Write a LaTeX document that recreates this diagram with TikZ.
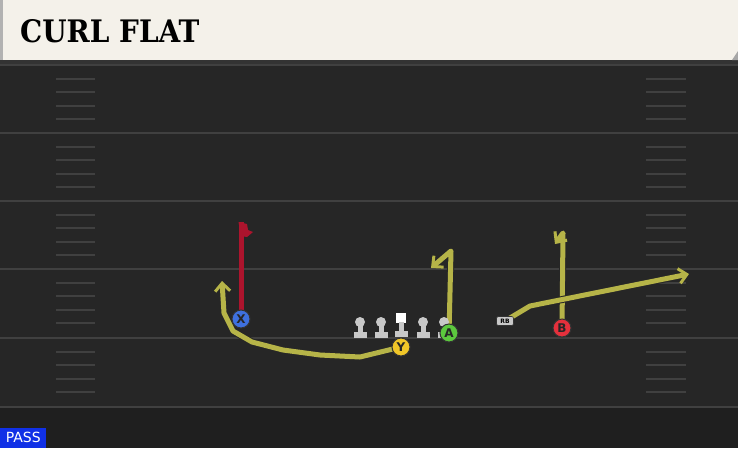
\documentclass[tikz,border=0pt]{standalone}
\usepackage{fontspec}
\setsansfont{DejaVu Sans}
\newfontfamily\titlefont{DejaVu Serif Condensed}
\usetikzlibrary{arrows.meta}
\definecolor{field}{RGB}{38,38,38}
\definecolor{fielddark}{RGB}{31,31,31}
\definecolor{yardline}{RGB}{64,64,64}
\definecolor{header}{RGB}{244,241,234}
\definecolor{routeyellow}{RGB}{182,180,72}
\definecolor{routered}{RGB}{172,20,45}
\definecolor{xblue}{RGB}{62,112,222}
\definecolor{yyellow}{RGB}{240,198,40}
\definecolor{agreen}{RGB}{92,200,62}
\definecolor{bred}{RGB}{228,48,60}
\definecolor{linegray}{RGB}{200,200,200}
\definecolor{passblue}{RGB}{16,48,230}

\tikzset{
  route/.style={draw=routeyellow, line width=5pt, line join=round,
    preaction={draw=black!85, line width=7pt}},
  tip/.style={-{Straight Barb[length=8pt,width=15pt,line width=3pt]}},
  player/.style={circle, draw=black!80, line width=1pt, minimum size=18pt,
    inner sep=0pt, text=black!85, font=\sffamily\bfseries\fontsize{12}{12}\selectfont},
  hash/.style={draw=yardline, line width=2pt}
}

\begin{document}
\begin{tikzpicture}[x=1pt, y=-1pt]
\useasboundingbox (0,0) rectangle (738,448);
% Draw field
\fill[field] (0,0) rectangle (738,448);
\fill[fielddark] (0,408) rectangle (738,448);
\foreach \y in {65,133,201,269,338,407}
  \draw[yardline, line width=2.4pt] (0,\y) -- (738,\y);
% Draw hash marks
\foreach \y in {65,133,201,269,338}
  \foreach \k in {1,...,4} {
    \draw[hash] (56,{\y+13.6*\k}) -- (95,{\y+13.6*\k});
    \draw[hash] (646,{\y+13.6*\k}) -- (686,{\y+13.6*\k});
  }
% Draw header
\fill[black!80] (0,58) rectangle (738,64);
\fill[header] (0,0) rectangle (738,60);
\fill[gray!60] (0,0) rectangle (3,60);
\fill[gray!70] (732,60) -- (738,51) -- (738,60) -- cycle;
\node[anchor=base west, inner sep=0pt, font=\titlefont\bfseries\fontsize{31}{31}\selectfont]
  (title) at (20,42) {CURL FLAT};
% Player spots
\coordinate (xpos) at (241,319);
\coordinate (ypos) at (401,347);
\coordinate (apos) at (449,333);
\coordinate (bpos) at (562,328);
\coordinate (rbpos) at (505,321);
% Draw routes
\draw[routered, line width=5pt] (xpos) -- (241,222) coordinate (xend);
\fill[routered] ([xshift=-2.5pt]xend) -- (247,224) -- (248,230) -- (253,232)
  -- (247,237) -- (241,236) -- cycle;
\draw[route, tip] (ypos) -- (360,357) -- (320,355) -- (283,350) -- (252,342)
  -- (233,331) -- (224,313) -- (222,281);
\draw[route, tip] (apos) -- (451,251) -- (431,268);
\draw[route, tip] (bpos) -- (563,233) -- (555,244);
\draw[route, tip] (rbpos) -- (530,306) -- (689,274);
% Draw line
\foreach \x in {360,381,423,444} {
  \fill[linegray] (\x,322) circle (5);
  \fill[linegray] (\x-2.5,322) rectangle (\x+2.5,334);
  \fill[linegray] (\x-6.5,332) rectangle (\x+6.5,338);
}
\fill[white] (396,313) rectangle (406,323);
\fill[linegray] (398.5,322) rectangle (403.5,334);
\fill[linegray] (394.5,331) rectangle (407.5,337);
% Draw players
\node[player, fill=xblue] (X) at (xpos) {X};
\node[player, fill=yyellow] (Y) at (ypos) {Y};
\node[player, fill=agreen] (A) at (apos) {A};
\node[player, fill=bred] (B) at (bpos) {B};
\node[rounded corners=2pt, fill=linegray, draw=black!80, line width=0.6pt,
  minimum width=17pt, minimum height=9pt, inner sep=0pt,
  font=\sffamily\bfseries\fontsize{6}{6}\selectfont] (RB) at (rbpos) {RB};
% Draw labels
\node[fill=passblue, text=white, anchor=south west, minimum width=46pt,
  minimum height=20pt, inner sep=0pt, font=\sffamily\fontsize{14}{14}\selectfont]
  (mode) at (0,448) {PASS};
\end{tikzpicture}
\end{document}
